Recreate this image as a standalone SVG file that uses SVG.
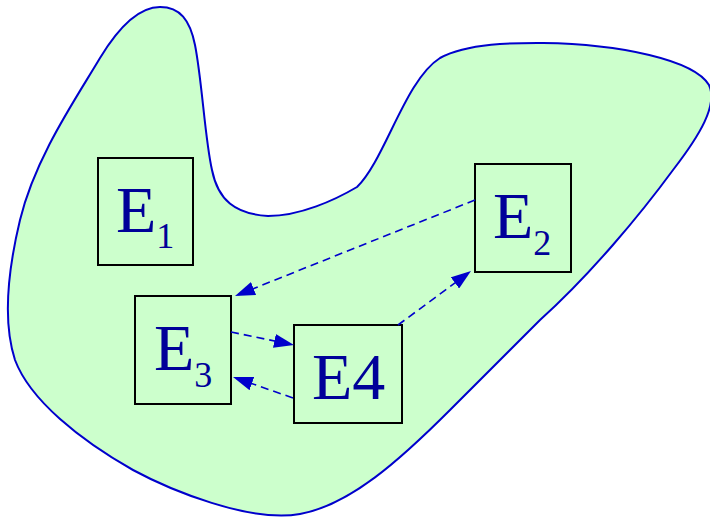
<svg xmlns="http://www.w3.org/2000/svg" width="710" height="519" viewBox="0 0 710 519">
<style>
.box{fill:#ccffcc;stroke:#000;stroke-width:2}
.lbl{font-family:"Liberation Serif","Times New Roman",serif;fill:#000099}
.big{font-size:66px}
.sub{font-size:36px}
.conn{fill:none;stroke:#0000cc;stroke-width:1.6;stroke-dasharray:8 5}
</style>
<defs>
<marker id="ah" viewBox="0 0 20 14" refX="20" refY="7" markerWidth="20" markerHeight="14" markerUnits="userSpaceOnUse" orient="auto">
<path d="M0,0 L20,7 L0,14 Z" fill="#0000cc"/>
</marker>
</defs>
<rect width="710" height="519" fill="#fff"/>
<path id="blob" d="M160 7 C180 7 190 20 195 45 C202 80 205 140 212 170 C218 200 235 214 268 216 C300 216 335 200 357 187 C385 160 405 80 440 58 C470 42 520 43 543 43 C620 44 694 60 709 85 C718 105 700 135 673 170 C640 215 590 275 540 320 C500 360 470 390 450 410 C400 460 350 505 300 514 C250 523 170 490 133 470 C80 440 30 400 15 360 C2 320 8 270 20 220 C35 158 75 100 100 58 C120 25 140 7 160 7 Z" fill="#ccffcc" stroke="#0000cc" stroke-width="2"/>
<g id="E1">
<rect class="box" x="98" y="158" width="95" height="107"/>
<text class="lbl" x="116" y="232"><tspan class="big">E</tspan><tspan class="sub" dy="16">1</tspan></text>
</g>
<g id="E2">
<rect class="box" x="475" y="164" width="96" height="108"/>
<text class="lbl" x="493" y="238"><tspan class="big">E</tspan><tspan class="sub" dy="17">2</tspan></text>
</g>
<g id="E3">
<rect class="box" x="135" y="296" width="96" height="108"/>
<text class="lbl" x="154" y="370"><tspan class="big">E</tspan><tspan class="sub" dy="17">3</tspan></text>
</g>
<g id="E4">
<rect class="box" x="294" y="325" width="108" height="98"/>
<text class="lbl big" x="312" y="399">E4</text>
</g>
<g id="connectors">
<line class="conn" x1="475" y1="200" x2="235" y2="296" marker-end="url(#ah)"/>
<line class="conn" x1="398" y1="325" x2="471" y2="271" marker-end="url(#ah)"/>
<line class="conn" x1="231" y1="332" x2="294" y2="345" marker-end="url(#ah)"/>
<line class="conn" x1="293" y1="398" x2="233" y2="377" marker-end="url(#ah)"/>
</g>
</svg>
